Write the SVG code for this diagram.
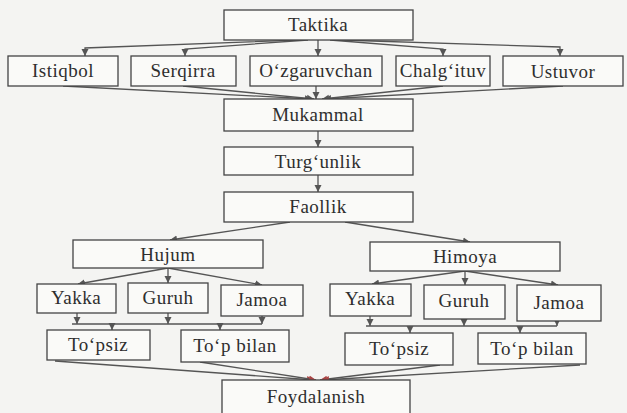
<svg xmlns="http://www.w3.org/2000/svg" width="627" height="413" viewBox="0 0 627 413">
<style>
.b{fill:#fafaf8;stroke:#444;stroke-width:1.3}
.t{font-family:"Liberation Serif","DejaVu Serif",serif;font-size:19px;fill:#2e2e2e;text-anchor:middle;letter-spacing:0.5px}
.c{fill:none;stroke:#555;stroke-width:1.3}
</style>
<defs>
<marker id="a" markerUnits="userSpaceOnUse" markerWidth="8" markerHeight="8" refX="7" refY="4" orient="auto"><path d="M0,0.5 L7,4 L0,7.5 z" fill="#555"/></marker>
<marker id="r" markerUnits="userSpaceOnUse" markerWidth="8" markerHeight="8" refX="7" refY="4" orient="auto"><path d="M0,0.5 L7,4 L0,7.5 z" fill="#a84444"/></marker>
</defs>
<rect width="627" height="413" fill="#f4f4f2"/>
<g id="connectors">
<path class="c" marker-end="url(#a)" d="M300,40 L85,48 L85,56"/>
<path class="c" marker-end="url(#a)" d="M308,40 L185,49 L185,56"/>
<path class="c" marker-end="url(#a)" d="M318,40 L318,56"/>
<path class="c" marker-end="url(#a)" d="M330,40 L443,49 L443,56"/>
<path class="c" marker-end="url(#a)" d="M340,40 L560,47 L560,56"/>
<path class="c" marker-end="url(#a)" d="M63,86 L312,99"/>
<path class="c" marker-end="url(#a)" d="M183,86 L314,99"/>
<path class="c" marker-end="url(#a)" d="M316,86 L316,99"/>
<path class="c" marker-end="url(#a)" d="M443,86 L322,99"/>
<path class="c" marker-end="url(#a)" d="M563,86 L324,99"/>
<path class="c" marker-end="url(#a)" d="M318,131 L318,147"/>
<path class="c" marker-end="url(#a)" d="M318,175 L318,192"/>
<path class="c" marker-end="url(#a)" d="M290,222 L170,240"/>
<path class="c" marker-end="url(#a)" d="M345,222 L470,242"/>
<path class="c" marker-end="url(#a)" d="M168,268 L78,284"/>
<path class="c" marker-end="url(#a)" d="M168,268 L168,283"/>
<path class="c" marker-end="url(#a)" d="M168,268 L262,285"/>
<path class="c" marker-end="url(#a)" d="M465,271 L372,284"/>
<path class="c" marker-end="url(#a)" d="M465,271 L465,285"/>
<path class="c" marker-end="url(#a)" d="M465,271 L558,285"/>
<path class="c" marker-end="url(#a)" d="M77,313 L77,324"/>
<path class="c" marker-end="url(#a)" d="M168,313 L168,324"/>
<path class="c" marker-end="url(#a)" d="M262,316 L262,324"/>
<path class="c" d="M72,324 L262,324"/>
<path class="c" marker-end="url(#a)" d="M112,324 L112,330"/>
<path class="c" marker-end="url(#a)" d="M220,324 L220,330"/>
<path class="c" marker-end="url(#a)" d="M370,316 L370,326"/>
<path class="c" marker-end="url(#a)" d="M464,319 L464,326"/>
<path class="c" marker-end="url(#a)" d="M557,321 L557,326"/>
<path class="c" d="M366,326 L557,326"/>
<path class="c" marker-end="url(#a)" d="M410,326 L410,333"/>
<path class="c" marker-end="url(#a)" d="M520,326 L520,333"/>
<path class="c" marker-end="url(#r)" d="M55,361 L314,380"/>
<path class="c" marker-end="url(#r)" d="M200,362 L316,380"/>
<path class="c" marker-end="url(#r)" d="M440,365 L320,380"/>
<path class="c" marker-end="url(#r)" d="M580,365 L322,380"/>
</g>
<g id="taktika"><rect class="b" x="224" y="10" width="189" height="30"/><text class="t" x="318" y="31">Taktika</text></g>
<g id="istiqbol"><rect class="b" x="8" y="56" width="110" height="30"/><text class="t" x="63" y="77">Istiqbol</text></g>
<g id="serqirra"><rect class="b" x="131" y="56" width="105" height="30"/><text class="t" x="183" y="77">Serqirra</text></g>
<g id="ozgaruvchan"><rect class="b" x="250" y="56" width="132" height="30"/><text class="t" x="316" y="77">O‘zgaruvchan</text></g>
<g id="chalgituv"><rect class="b" x="396" y="56" width="94" height="30"/><text class="t" x="443" y="77">Chalg‘ituv</text></g>
<g id="ustuvor"><rect class="b" x="503" y="56" width="120" height="30"/><text class="t" x="563" y="78">Ustuvor</text></g>
<g id="mukammal"><rect class="b" x="224" y="99" width="189" height="32"/><text class="t" x="318" y="121">Mukammal</text></g>
<g id="turgunlik"><rect class="b" x="224" y="147" width="189" height="28"/><text class="t" x="318" y="168">Turg‘unlik</text></g>
<g id="faollik"><rect class="b" x="224" y="192" width="189" height="30"/><text class="t" x="318" y="213">Faollik</text></g>
<g id="hujum"><rect class="b" x="73" y="240" width="190" height="28"/><text class="t" x="168" y="261">Hujum</text></g>
<g id="himoya"><rect class="b" x="370" y="242" width="190" height="29"/><text class="t" x="465" y="263">Himoya</text></g>
<g id="yakka1"><rect class="b" x="37" y="284" width="79" height="29"/><text class="t" x="76" y="304">Yakka</text></g>
<g id="guruh1"><rect class="b" x="128" y="283" width="80" height="30"/><text class="t" x="168" y="304">Guruh</text></g>
<g id="jamoa1"><rect class="b" x="221" y="285" width="82" height="31"/><text class="t" x="262" y="306">Jamoa</text></g>
<g id="yakka2"><rect class="b" x="330" y="284" width="81" height="32"/><text class="t" x="370" y="305">Yakka</text></g>
<g id="guruh2"><rect class="b" x="424" y="285" width="81" height="34"/><text class="t" x="464" y="307">Guruh</text></g>
<g id="jamoa2"><rect class="b" x="517" y="285" width="84" height="36"/><text class="t" x="559" y="309">Jamoa</text></g>
<g id="topsiz1"><rect class="b" x="47" y="330" width="103" height="30"/><text class="t" x="98" y="351">To‘psiz</text></g>
<g id="topbilan1"><rect class="b" x="181" y="330" width="108" height="32"/><text class="t" x="235" y="352">To‘p bilan</text></g>
<g id="topsiz2"><rect class="b" x="345" y="333" width="108" height="32"/><text class="t" x="399" y="355">To‘psiz</text></g>
<g id="topbilan2"><rect class="b" x="478" y="333" width="108" height="31"/><text class="t" x="532" y="355">To‘p bilan</text></g>
<g id="foydalanish"><rect class="b" x="222" y="380" width="188" height="40"/><text class="t" x="316" y="403">Foydalanish</text></g>
</svg>
